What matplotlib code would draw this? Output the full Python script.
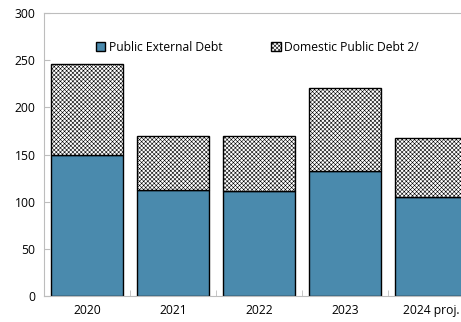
import numpy as np
import matplotlib
matplotlib.use("Agg")
import matplotlib.pyplot as plt

plt.rcParams["font.family"] = ["Open Sans", "DejaVu Sans"]
plt.rcParams["hatch.color"] = "#adadad"
plt.rcParams["hatch.linewidth"] = 0.4

years = ["2020", "2021", "2022", "2023", "2024 proj."]
external = [150, 112, 111, 133, 105]
domestic = [96, 58, 59, 87, 63]

fig = plt.figure(figsize=(4.61, 3.22), dpi=100)
ax = fig.add_axes([0.0954, 0.0807, 0.9328, 0.8789])

x = np.arange(len(years))
ax.bar(x, external, width=0.84, color="#4a8aad", edgecolor="black", linewidth=1.0,
       label="Public External Debt")
ax.bar(x, domestic, width=0.84, bottom=external, color="white", edgecolor="black",
       linewidth=1.0, hatch="xxxxxxxx", label="Domestic Public Debt 2/")

ax.set_xlim(-0.5, 4.5)
ax.set_ylim(0, 300)
ax.set_yticks(range(0, 301, 50))
ax.set_xticks(x)
ax.set_xticklabels(years)
ax.set_xticks(np.arange(-0.5, 4.6, 1), minor=True)
ax.tick_params(axis="x", which="major", length=0, labelsize=8.7, pad=6)
ax.tick_params(axis="x", which="minor", length=4, color="#bdbdbd", direction="in")
ax.tick_params(axis="y", length=4, color="#bdbdbd", direction="in", labelsize=8.7, pad=6)

for side in ["left", "bottom", "top"]:
    ax.spines[side].set_color("#bdbdbd")
ax.spines["right"].set_visible(False)

ax.legend(loc="upper left", bbox_to_anchor=(0.095, 0.94), ncol=2, frameon=False,
          fontsize=8.7, handlelength=0.8, handleheight=0.8, handletextpad=0.3,
          columnspacing=4.0)

fig.savefig("out.png", dpi=100)
